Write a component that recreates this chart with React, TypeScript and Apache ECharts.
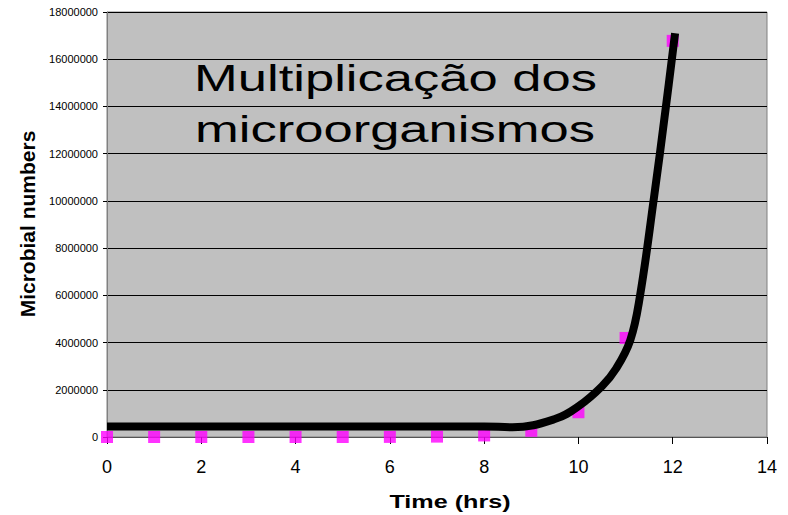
import React, { useEffect, useRef } from "react";
import * as echarts from "echarts";

const hours = [0, 1, 2, 3, 4, 5, 6, 7, 8, 9, 10, 11, 12];
const counts = [1, 4, 16, 64, 256, 1024, 4096, 16384, 65536, 262144, 1048576, 4194304, 16777216];

const trendX = [0, 4, 8, 8.6, 9.5, 10.0, 10.5, 10.8, 11.1, 11.3, 11.6, 11.85, 12.05];
const trendY = [450000, 450000, 450000, 410000, 760000, 1300000, 2150000, 2900000, 4100000, 5900000, 10100000, 13900000, 17100000];

const titleLines = ["Multiplicação dos", "microorganismos"];
const xName = "Time (hrs)";
const yName = "Microbial numbers";

export default function App() {
  const ref = useRef<HTMLDivElement>(null);
  useEffect(() => {
    if (!ref.current) return;
    const chart = echarts.init(ref.current, null, { renderer: "svg" });
    const font = "'Liberation Sans', Arial, sans-serif";
    chart.setOption({
      animation: false,
      backgroundColor: "#ffffff",
      grid: {
        left: 107,
        right: 21,
        top: 12,
        bottom: 78,
        show: true,
        backgroundColor: "#C0C0C0",
        borderColor: "#808080",
        borderWidth: 1,
      },
      xAxis: {
        type: "value",
        min: 0,
        max: 14,
        interval: 2,
        axisLine: { show: true, lineStyle: { color: "#555555", width: 1 } },
        axisTick: { show: true, inside: false, length: 7, lineStyle: { color: "#000" } },
        axisLabel: { fontSize: 18, color: "#000", fontFamily: font, margin: 21 },
        splitLine: { show: false },
      },
      yAxis: {
        type: "value",
        min: 0,
        max: 18000000,
        interval: 2000000,
        axisLine: { show: true, lineStyle: { color: "#808080", width: 1 } },
        axisTick: { show: true, inside: false, length: 4, lineStyle: { color: "#000" } },
        axisLabel: {
          fontSize: 11,
          color: "#000",
          fontFamily: font,
          margin: 9,
          formatter: (v: number) => String(v),
        },
        splitLine: { show: true, lineStyle: { color: "#000", width: 1 } },
      },
      graphic: [
        {
          type: "text",
          x: 395.5,
          y: 78.5,
          scaleX: 1.42,
          style: {
            text: titleLines[0],
            fontSize: 37,
            fontFamily: font,
            fill: "#000",
            align: "center",
            verticalAlign: "middle",
          },
          z: 10,
        },
        {
          type: "text",
          x: 395,
          y: 129,
          scaleX: 1.42,
          style: {
            text: titleLines[1],
            fontSize: 37,
            fontFamily: font,
            fill: "#000",
            align: "center",
            verticalAlign: "middle",
          },
          z: 10,
        },
        {
          type: "text",
          x: 450,
          y: 502,
          scaleX: 1.4,
          style: {
            text: xName,
            fontSize: 18,
            fontWeight: "bold",
            fontFamily: font,
            fill: "#000",
            align: "center",
            verticalAlign: "middle",
          },
        },
        {
          type: "text",
          x: 27.5,
          y: 224,
          rotation: Math.PI / 2,
          style: {
            text: yName,
            fontSize: 21,
            fontWeight: "bold",
            fontFamily: font,
            fill: "#000",
            align: "center",
            verticalAlign: "middle",
          },
        },
      ],
      series: [
        {
          type: "scatter",
          symbol: "rect",
          symbolSize: 12,
          itemStyle: { color: "#FF00FF" },
          data: hours.map((h, i) => [h, counts[i]]),
          z: 2,
        },
        {
          type: "line",
          smooth: 0.4,
          showSymbol: false,
          clip: false,
          lineStyle: { color: "#000", width: 8 },
          data: trendX.map((x, i) => [x, trendY[i]]),
          z: 3,
        },
      ],
    });
    return () => chart.dispose();
  }, []);
  return <div ref={ref} style={{ width: 788, height: 515, position: "absolute", left: 0, top: 0 }} />;
}
